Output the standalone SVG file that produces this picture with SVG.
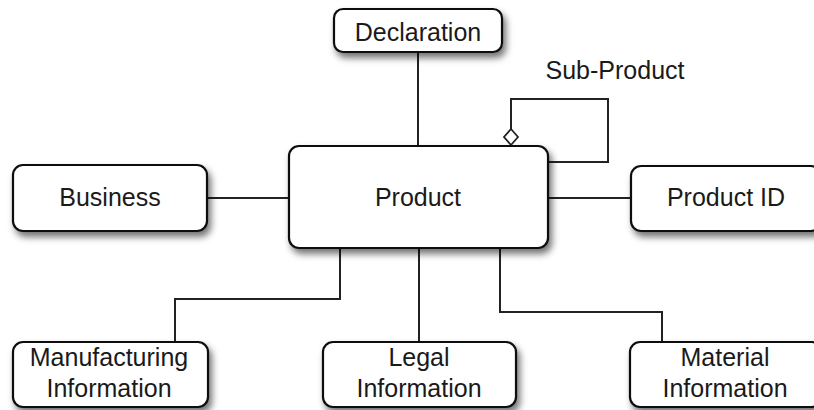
<svg xmlns="http://www.w3.org/2000/svg" width="814" height="410" viewBox="0 0 814 410">
  <defs>
    <filter id="sh" x="-20%" y="-30%" width="140%" height="170%">
      <feDropShadow dx="3" dy="5" stdDeviation="3.5" flood-color="#000" flood-opacity="0.55"/>
    </filter>
    <style>
      .box { fill: #fff; stroke: #111; stroke-width: 2.2; filter: url(#sh); }
      .lbl { font-family: "Liberation Sans", Arial, sans-serif; font-size: 25px; fill: #1a1a1a; text-anchor: middle; }
      .con { fill: none; stroke: #222; stroke-width: 2; }
    </style>
  </defs>
  <rect width="814" height="410" fill="#fff"/>

  <g id="connectors">
    <line class="con" x1="418" y1="52" x2="418" y2="146" stroke="#555"/>
    <line class="con" x1="207" y1="198" x2="289" y2="198"/>
    <line class="con" x1="548" y1="198" x2="631" y2="198"/>
    <path class="con" d="M340,248 V299 H175 V342"/>
    <line class="con" x1="419" y1="248" x2="419" y2="342"/>
    <path class="con" d="M500,248 V312 H662 V342"/>
    <path class="con" d="M511,129 V99 H608 V162 H548"/>
    <polygon points="511,129 518,137 511,145 504,137" fill="#fff" stroke="#222" stroke-width="1.8"/>
    <text class="lbl" x="615" y="79">Sub-Product</text>
  </g>

  <g id="declaration">
    <rect class="box" x="334" y="9" width="168" height="43" rx="9"/>
    <text class="lbl" x="418" y="41">Declaration</text>
  </g>
  <g id="product">
    <rect class="box" x="289" y="146" width="259" height="102" rx="10"/>
    <text class="lbl" x="418" y="206">Product</text>
  </g>
  <g id="business">
    <rect class="box" x="13" y="165" width="194" height="66" rx="10"/>
    <text class="lbl" x="110" y="206">Business</text>
  </g>
  <g id="product-id">
    <rect class="box" x="631" y="166" width="190" height="65" rx="10"/>
    <text class="lbl" x="726" y="206">Product ID</text>
  </g>
  <g id="manufacturing">
    <rect class="box" x="13" y="342" width="195" height="65" rx="10"/>
    <text class="lbl" x="109" y="366">Manufacturing</text>
    <text class="lbl" x="109" y="397">Information</text>
  </g>
  <g id="legal">
    <rect class="box" x="323" y="342" width="193" height="65" rx="10"/>
    <text class="lbl" x="419" y="366">Legal</text>
    <text class="lbl" x="419" y="397">Information</text>
  </g>
  <g id="material">
    <rect class="box" x="630" y="342" width="192" height="65" rx="10"/>
    <text class="lbl" x="725" y="366">Material</text>
    <text class="lbl" x="725" y="397">Information</text>
  </g>
</svg>
